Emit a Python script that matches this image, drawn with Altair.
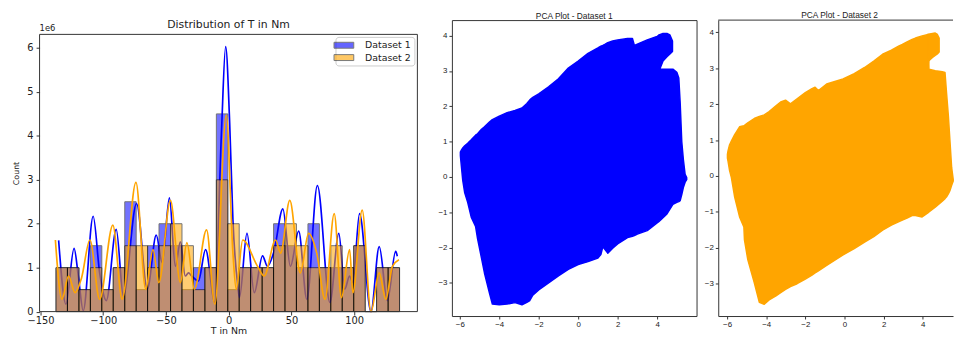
import altair as alt
import pandas as pd

# ---------------- data ----------------
# Histogram bin edges (T in Nm) and counts (in units of 1e6)
BIN_EDGES = [-137.6, -128.5, -119.3, -110.2, -101.1, -92.0, -82.8, -73.7, -64.6, -55.5,
             -46.3, -37.2, -28.1, -18.9, -9.8, -0.7, 8.4, 17.5, 26.7, 35.8,
             44.9, 54.0, 63.2, 72.3, 81.4, 90.5, 99.7, 108.8, 117.9, 127.1, 136.2]
DS1_COUNTS = [1, 1, 0.5, 1.5, 0.5, 1, 2.5, 0.5, 1.5, 2.0, 1.5, 0.5, 1.0, 1.0, 4.5,
              0.5, 1.0, 1.0, 1.0, 2.0, 1.5, 1.0, 2.0, 1.0, 1.0, 1.0, 1.5, 0, 1.0, 1.0]
DS2_COUNTS = [1, 1, 0.5, 1.0, 0.5, 1, 1.5, 1.5, 1.0, 1.5, 2.0, 1.5, 0.5, 1.0, 3.0,
              2.0, 1.0, 1.0, 1.0, 1.5, 2.0, 1.5, 1.0, 1.0, 1.5, 1.0, 1.5, 0, 1.0, 1.0]
DATASETS = ["Dataset 1", "Dataset 2"]

# KDE curves
KDE1_X = [-135.5, -129.7, -123.2, -119.8, -115.9, -108.0, -102.8, -97.5, -89.6, -83.9,
          -73.4, -64.8, -57.7, -53.0, -47.2, -42.5, -38.5, -34.6, -32.0, -29.4,
          -24.1, -18.4, -11.0, -5.8, -2.4, 0.8, 3.4, 7.3, 8.6, 14.6,
          20.4, 27.0, 30.9, 36.1, 43.2, 49.2, 55.8, 62.3, 70.7, 80.7,
          87.8, 92.5, 96.4, 99.0, 104.3, 113.4, 120.0, 126.5, 133.1, 134.4]
KDE1_Y = [1.62, 0.17, 1.44, 0.81, 0.02, 2.17, 0.88, 0.25, 1.87, 0.36,
          2.46, 0.51, 1.74, 1.11, 2.59, 1.03, 1.59, 0.81, 0.88, 0.81,
          0.70, 1.41, 0.21, 4.03, 6.03, 4.30, 2.08, 0.58, 0.32, 1.78,
          0.43, 1.27, 1.03, 1.37, 2.34, 1.03, 1.83, 0.28, 2.87, 0.21,
          1.78, 0.51, 0.81, 0.66, 2.23, 0.0, 1.48, 0.25, 1.37, 1.26]
KDE2_X = [-138.1, -132.9, -127.6, -122.4, -117.2, -110.6, -102.8, -92.3, -84.9, -73.9,
          -66.1, -60.3, -55.6, -46.4, -38.5, -33.3, -27.3, -17.6, -11.0, -1.9,
          3.4, 6.0, 11.2, 23.0, 28.3, 37.4, 41.4, 48.7, 57.1, 63.7,
          70.2, 76.8, 84.1, 89.9, 96.4, 99.0, 106.4, 113.4, 120.0, 125.2,
          130.5, 135.7]
KDE2_Y = [1.63, 0.28, 0.81, 0.43, 0.77, 1.63, 0.28, 1.97, 0.28, 2.94,
          0.51, 1.41, 0.66, 2.53, 0.66, 1.57, 0.51, 1.86, 0.17, 4.47,
          1.33, 0.51, 1.63, 1.03, 0.81, 1.63, 1.33, 2.53, 0.88, 1.78,
          1.33, 0.28, 2.23, 0.32, 1.41, 0.43, 2.31, 0.0, 0.88, 0.28,
          1.03, 1.18]

# PCA point clouds: outline (top / bottom edge) of the filled point cloud
PCA1_X = [-5.97, -5.92, -5.85, -5.75, -5.6, -5.42, -5.2, -5.1, -4.9, -4.75,
          -4.5, -4.35, -4.0, -3.6, -3.2, -2.85, -2.6, -2.45, -2.3, -2.0,
          -1.5, -1.0, -0.5, 0.0, 0.5, 1.0, 1.15, 1.25, 1.35, 1.5,
          1.75, 2.0, 2.5, 2.75, 2.85, 3.0, 3.5, 4.0, 4.12, 4.14,
          4.5, 4.8, 5.0, 5.1, 5.17, 5.25, 5.33, 5.42, 5.5]
PCA1_TOP = [0.70, 0.76, 0.82, 0.88, 0.95, 1.05, 1.18, 1.22, 1.35, 1.42,
            1.55, 1.62, 1.72, 1.82, 1.88, 1.95, 2.08, 2.18, 2.25, 2.35,
            2.55, 2.78, 3.08, 3.28, 3.50, 3.65, 3.70, 3.72, 3.75, 3.80,
            3.85, 3.88, 3.92, 3.92, 3.72, 3.76, 3.88, 3.98, 4.02, 3.05,
            3.05, 3.05, 2.96, 2.80, 2.10, 1.00, 0.50, 0.07, -0.02]
PCA1_BOTTOM = [0.60, 0.30, -0.10, -0.45, -0.72, -1.14, -1.40, -1.75, -2.30, -2.72,
               -3.28, -3.60, -3.62, -3.60, -3.56, -3.62, -3.55, -3.50, -3.35, -3.20,
               -3.00, -2.80, -2.62, -2.48, -2.40, -2.30, -2.20, -1.98, -2.05, -2.16,
               -2.02, -1.90, -1.72, -1.68, -1.66, -1.62, -1.52, -1.30, -1.25, -1.24,
               -1.05, -0.78, -0.72, -0.70, -0.67, -0.50, -0.30, -0.15, -0.08]
LOBE1_X = [4.10, 4.3, 4.5, 4.65, 4.78]
LOBE1_TOP = [4.02, 4.06, 4.06, 4.02, 3.85]
LOBE1_BOTTOM = [3.00, 3.28, 3.40, 3.48, 3.55]

PCA2_X = [-5.98, -5.95, -5.87, -5.78, -5.61, -5.36, -5.14, -5.11, -4.94, -4.61,
          -4.35, -4.10, -3.85, -3.5, -3.26, -3.01, -2.76, -2.42, -2.0, -1.66,
          -1.5, -1.33, -0.91, -0.07, 0.5, 1.03, 1.5, 1.95, 2.4, 2.79,
          2.96, 3.2, 3.46, 3.63, 3.97, 4.28, 4.32, 4.64, 5.0, 5.14,
          5.22, 5.31, 5.39, 5.48, 5.56]
PCA2_TOP = [0.60, 0.70, 0.87, 0.97, 1.15, 1.37, 1.40, 1.41, 1.48, 1.60,
            1.66, 1.70, 1.79, 1.95, 2.06, 2.11, 2.01, 2.15, 2.32, 2.43,
            2.47, 2.38, 2.56, 2.70, 2.85, 3.02, 3.20, 3.39, 3.50, 3.62,
            3.66, 3.73, 3.80, 3.84, 3.90, 3.94, 2.97, 2.93, 2.90, 2.88,
            2.30, 1.69, 1.00, 0.23, -0.10]
PCA2_BOTTOM = [0.50, 0.41, 0.15, -0.04, -0.59, -1.14, -1.42, -1.78, -2.33, -2.97,
               -3.52, -3.57, -3.45, -3.34, -3.25, -3.16, -3.08, -3.00, -2.87, -2.76,
               -2.70, -2.64, -2.49, -2.20, -2.02, -1.84, -1.69, -1.51, -1.37, -1.27,
               -1.23, -1.17, -1.10, -1.10, -1.14, -1.02, -1.00, -0.87, -0.70, -0.63,
               -0.58, -0.50, -0.41, -0.26, -0.14]
LOBE2_X = [4.26, 4.3, 4.5, 4.64, 4.75, 4.84]
LOBE2_TOP = [3.94, 3.95, 3.97, 3.98, 3.94, 3.84]
LOBE2_BOTTOM = [2.97, 3.20, 3.30, 3.36, 3.40, 3.45]

HIST_X_TICKS = [-150, -100, -50, 0, 50, 100]
HIST_Y_TICKS = [0, 1, 2, 3, 4, 5, 6]
PCA_X_TICKS = [-6, -4, -2, 0, 2, 4]
PCA_Y_TICKS = [-3, -2, -1, 0, 1, 2, 3, 4]

# axis limits of the histogram figure (its frame sits lower than the PCA frames)
HIST_T_LIMITS = [-150.7, 150.4]
HIST_COUNT_TOP = 6.31     # top of the histogram frame
HIST_AREA_TOP = 6.635     # top of the drawing area (room above the frame)
PCA1_LIMITS = ([-6.4, 6.0], [-3.94, 4.44])
PCA2_LIMITS = ([-6.45, 5.55], [-3.90, 4.34])

# ---------------- styling ----------------
FONT_L = "DejaVu Sans"
FONT_R = "Liberation Sans"
TXT = "#222222"
FRAME = "#333333"
HW, HH = 383, 295.5

# ---------------- left: histogram + KDE ----------------
h1 = pd.DataFrame({"t": BIN_EDGES[:-1], "t_end": BIN_EDGES[1:], "count": DS1_COUNTS, "dataset": DATASETS[0]})
h2 = pd.DataFrame({"t": BIN_EDGES[:-1], "t_end": BIN_EDGES[1:], "count": DS2_COUNTS, "dataset": DATASETS[1]})
k1 = pd.DataFrame({"t": KDE1_X, "count": KDE1_Y})
k2 = pd.DataFrame({"t": KDE2_X, "count": KDE2_Y})
lo, hi = HIST_T_LIMITS
frame_df = pd.DataFrame({
    "t":         [lo, lo, lo, hi],
    "t_end":     [hi, hi, lo, hi],
    "count":     [HIST_COUNT_TOP, 0, 0, 0],
    "count_end": [HIST_COUNT_TOP, 0, HIST_COUNT_TOP, HIST_COUNT_TOP],
})

hx_scale = alt.Scale(domain=HIST_T_LIMITS, nice=False, zero=False)
hy_scale = alt.Scale(domain=[0, HIST_AREA_TOP], nice=False)
hx_axis = alt.Axis(values=HIST_X_TICKS, title="T in Nm", grid=False, domain=False,
                   tickSize=3.5, tickColor=FRAME, labelFlush=False, labelOverlap=False,
                   labelFont=FONT_L, labelFontSize=10, labelColor=TXT, labelPadding=1,
                   titleFont=FONT_L, titleFontSize=9.5, titleFontWeight="normal",
                   titleColor=TXT, titlePadding=0)
hy_axis = alt.Axis(values=HIST_Y_TICKS, title="Count", grid=False, domain=False,
                   tickSize=3.5, tickColor=FRAME, labelFlush=False, labelOverlap=False,
                   labelFont=FONT_L, labelFontSize=10, labelColor=TXT, labelPadding=3,
                   titleFont=FONT_L, titleFontSize=8, titleFontWeight="normal",
                   titleColor=TXT, titlePadding=6, titleY=155)
HX = alt.X("t:Q", scale=hx_scale, axis=hx_axis)
HY = alt.Y("count:Q", scale=hy_scale, axis=hy_axis)

color_scale = alt.Scale(domain=DATASETS, range=["blue", "orange"])
legend = alt.Legend(title=None, orient="none", legendX=300, legendY=17,
                    symbolType="M-2,-0.6L2,-0.6L2,0.6L-2,0.6Z", symbolSize=100,
                    symbolStrokeColor="#222", symbolStrokeWidth=1, symbolOpacity=0.6,
                    labelFont=FONT_L, labelFontSize=9.5, labelColor=TXT, labelOffset=16,
                    fillColor="white", strokeColor="#cccccc", padding=3, cornerRadius=3,
                    rowPadding=1.5)

bars1 = alt.Chart(h1).mark_bar(opacity=0.55, stroke="black", strokeWidth=1).encode(
    x=HX, x2="t_end:Q", y=HY, y2=alt.datum(0),
    color=alt.Color("dataset:N", scale=color_scale, legend=legend))
line1 = alt.Chart(k1).mark_line(color="blue", strokeWidth=1.7, interpolate="monotone").encode(x=HX, y=HY)
bars2 = alt.Chart(h2).mark_bar(opacity=0.55, stroke="black", strokeWidth=1).encode(
    x=HX, x2="t_end:Q", y=HY, y2=alt.datum(0),
    color=alt.Color("dataset:N", scale=color_scale, legend=legend))
line2 = alt.Chart(k2).mark_line(color="orange", strokeWidth=1.7, interpolate="monotone").encode(x=HX, y=HY)
frame_lines = alt.Chart(frame_df).mark_rule(color=FRAME, strokeWidth=1).encode(
    x=HX, x2="t_end:Q", y=HY, y2="count_end:Q")
title_txt = alt.Chart(pd.DataFrame({"label": ["Distribution of T in Nm"]})).mark_text(
    font=FONT_L, fontSize=11, align="center", baseline="middle", color=TXT
).encode(text="label:N", x=alt.value(HW / 2), y=alt.value(5.5))
offset_note = alt.Chart(pd.DataFrame({"note": ["1e6"]})).mark_text(
    font=FONT_L, fontSize=8.5, align="left", baseline="middle", color=TXT
).encode(text="note:N", x=alt.value(0), y=alt.value(8.5))
# invisible point: keeps the gap between the histogram and the first PCA figure
gap_keeper = alt.Chart(pd.DataFrame({"a": [0]})).mark_point(opacity=0, size=1).encode(
    x=alt.value(395.5), y=alt.value(100))

hist = alt.layer(bars1, line1, bars2, line2, frame_lines, title_txt, offset_note, gap_keeper).properties(
    width=HW, height=HH, view=alt.ViewBackground(stroke="transparent"))


# ---------------- PCA panels ----------------
def pca_panel(xs, tops, bots, lx, ltop, lbot, color, title, limits, width, height, framed, dx):
    xdom, ydom = limits
    body = pd.DataFrame({"pc1": xs, "top": tops, "bottom": bots})
    lobe = pd.DataFrame({"pc1": lx, "top": ltop, "bottom": lbot})
    xa = alt.Axis(values=PCA_X_TICKS, title=None, grid=False, domain=not framed,
                  domainColor=FRAME, tickSize=3, tickColor=FRAME, labelFlush=False,
                  labelOverlap=False, labelFont=FONT_R, labelFontSize=8, labelColor=TXT,
                  labelPadding=2)
    ya = alt.Axis(values=PCA_Y_TICKS, title=None, grid=False, domain=not framed,
                  domainColor=FRAME, tickSize=3, tickColor=FRAME, labelFlush=False,
                  labelOverlap=False, labelFont=FONT_R, labelFontSize=8, labelColor=TXT,
                  labelPadding=2)
    X = alt.X("pc1:Q", scale=alt.Scale(domain=xdom, nice=False, zero=False), axis=xa)
    Y = alt.Y("top:Q", scale=alt.Scale(domain=ydom, nice=False, zero=False), axis=ya)
    a1 = alt.Chart(body).mark_area(color=color, orient="vertical", interpolate="linear",
                                   stroke=color, strokeWidth=1.5, strokeJoin="round").encode(
        x=X, y=Y, y2="bottom:Q")
    a2 = alt.Chart(lobe).mark_area(color=color, orient="vertical", interpolate="linear",
                                   stroke=color, strokeWidth=1.5, strokeJoin="round").encode(
        x=X, y=Y, y2="bottom:Q")
    layers = [a1, a2]
    props = dict(width=width, height=height,
                 title=alt.TitleParams(title, font=FONT_R, fontSize=8.5, fontWeight="normal",
                                       color=TXT, offset=0, dx=dx))
    if not framed:
        top_rule = alt.Chart(pd.DataFrame({"a": [0]})).mark_rule(color=FRAME, strokeWidth=1).encode(
            x=alt.value(0), x2=alt.value(width), y=alt.value(0))
        layers.append(top_rule)
        props["view"] = alt.ViewBackground(stroke="transparent")
    return alt.layer(*layers).properties(**props)


pca1 = pca_panel(PCA1_X, PCA1_TOP, PCA1_BOTTOM, LOBE1_X, LOBE1_TOP, LOBE1_BOTTOM,
                 "blue", "PCA Plot - Dataset 1", PCA1_LIMITS, 248, 300, True, 0)
pca2 = pca_panel(PCA2_X, PCA2_TOP, PCA2_BOTTOM, LOBE2_X, LOBE2_TOP, LOBE2_BOTTOM,
                 "orange", "PCA Plot - Dataset 2", PCA2_LIMITS, 238, 300, False, 4)

chart = alt.hconcat(hist, pca1, pca2, spacing=6).resolve_scale(
    color="independent"
).resolve_legend(
    color="independent"
).properties(
    padding={"left": 4, "top": 0, "right": 0, "bottom": 0},
    background="white",
).configure_view(stroke=FRAME, strokeWidth=1)

chart.save("out.html", embed_options={"renderer": "svg", "actions": False})
